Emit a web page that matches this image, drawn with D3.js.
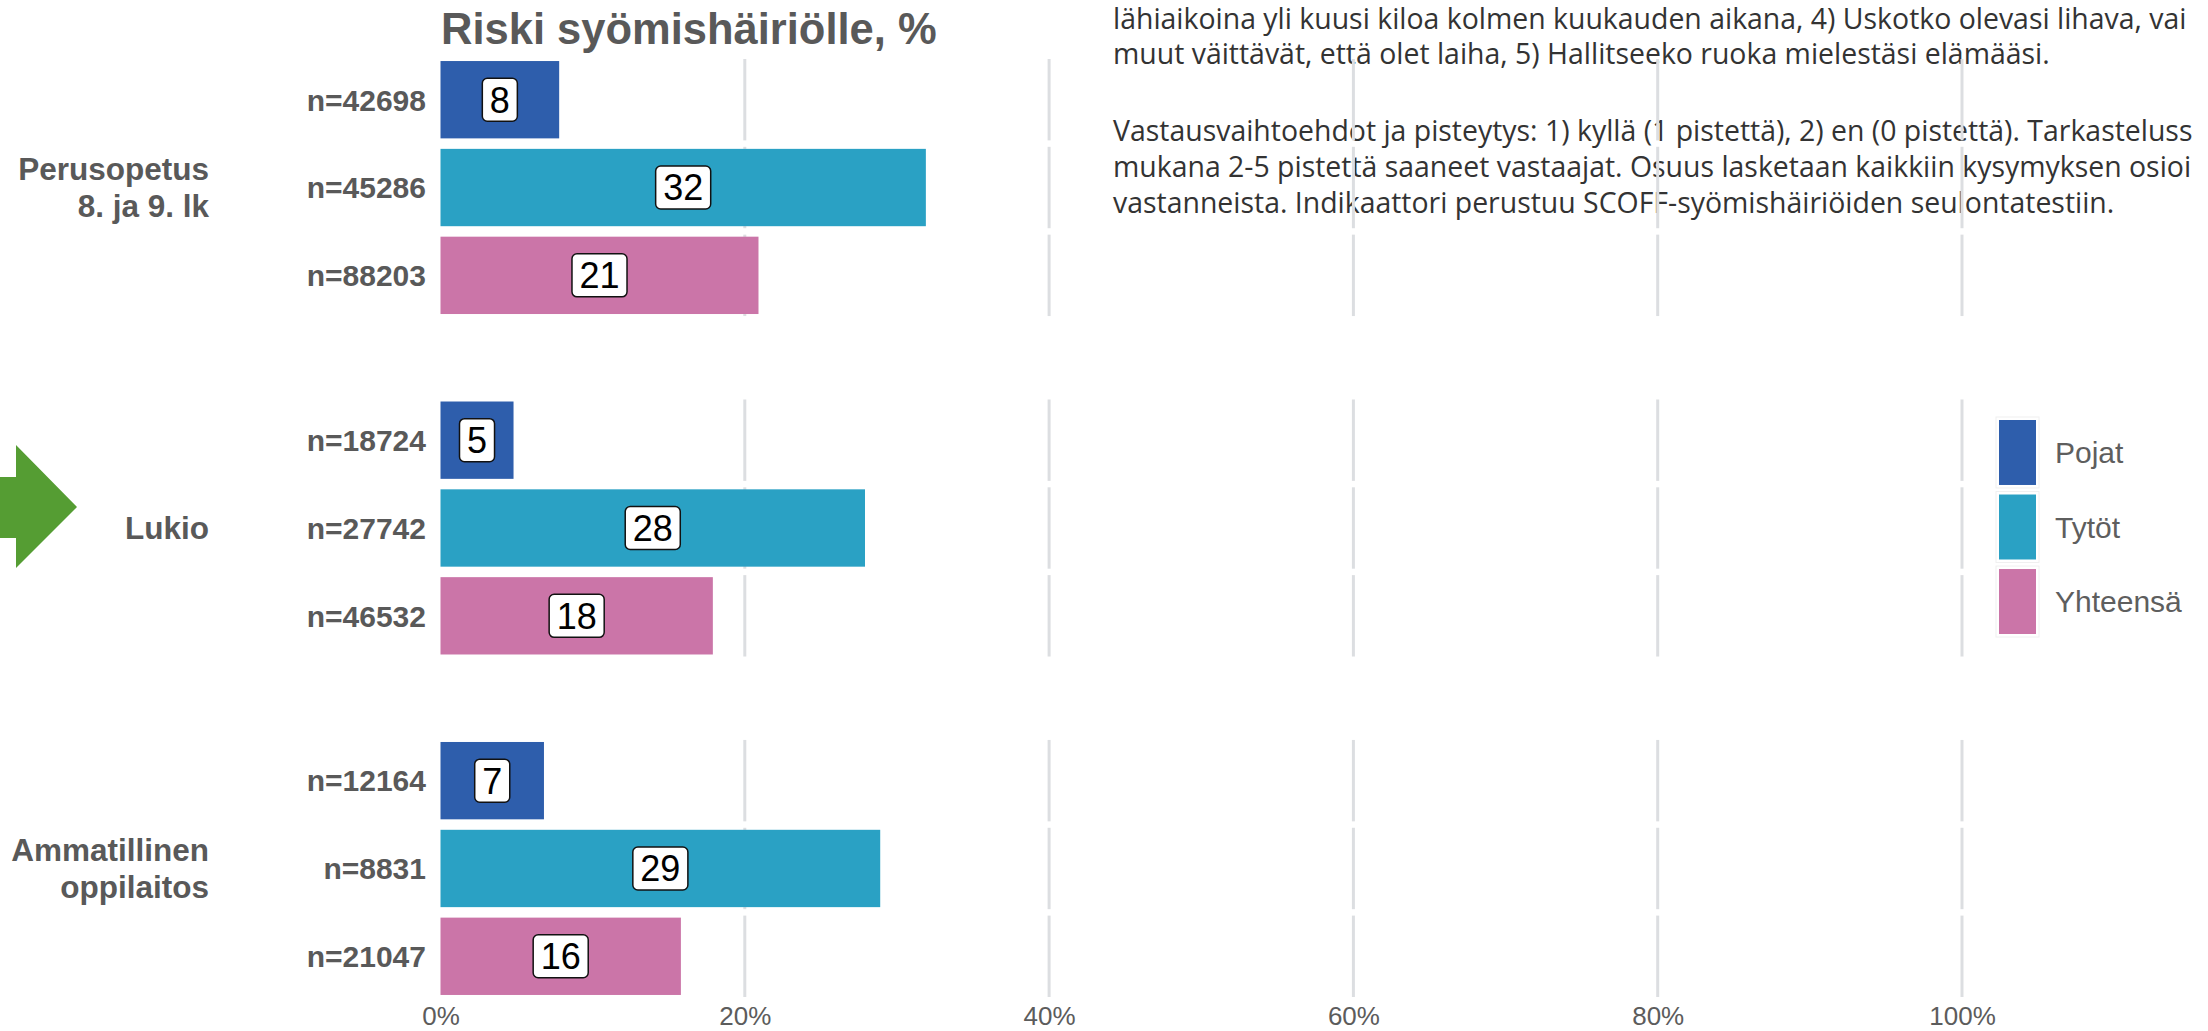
<!DOCTYPE html>
<html>
<head>
<meta charset="utf-8">
<script src="https://cdn.jsdelivr.net/npm/d3@7"></script>
<style>
  html, body { margin: 0; padding: 0; background: #fff; overflow: hidden; }
  svg { display: block; }
</style>
</head>
<body>
<svg id="chart" width="2208" height="1031"></svg>
<script>
// ---- data ----
const groups = ["Perusopetus\n8. ja 9. lk", "Lukio", "Ammatillinen\noppilaitos"];
const series = ["Pojat", "Tytöt", "Yhteensä"];
const pojat    = [7.8, 4.8, 6.8];
const tytot    = [31.9, 27.9, 28.9];
const yhteensa = [20.9, 17.9, 15.8];
const pojatN    = [42698, 18724, 12164];
const tytotN    = [45286, 27742, 8831];
const yhteensaN = [88203, 46532, 21047];
const ticks = [0, 20, 40, 60, 80, 100];
const title = "Riski syömishäiriölle, %";
// note text as visible in the reference (cut at the right page edge there)
const noteLines = [
  "lähiaikoina yli kuusi kiloa kolmen kuukauden aikana, 4) Uskotko olevasi lihava, vai",
  "muut väittävät, että olet laiha, 5) Hallitseeko ruoka mielestäsi elämääsi.",
  "",
  "Vastausvaihtoehdot ja pisteytys: 1) kyllä (1 pistettä), 2) en (0 pistettä). Tarkasteluss",
  "mukana 2-5 pistettä saaneet vastaajat. Osuus lasketaan kaikkiin kysymyksen osioi",
  "vastanneista. Indikaattori perustuu SCOFF-syömishäiriöiden seulontatestiin."
];

// ---- build table ----
const seriesValues = [pojat, tytot, yhteensa];
const seriesN = [pojatN, tytotN, yhteensaN];
const rows = [];
groups.forEach((g, gi) => {
  series.forEach((s, si) => {
    rows.push({ group: g, series: s, value: seriesValues[si][gi], n: seriesN[si][gi] });
  });
});

const colors = d3.scaleOrdinal().domain(series).range(["#2e5eac", "#2aa1c4", "#cb75a8"]);

const svg = d3.select("#chart");
const grey = "#595959";
const sans = "'Liberation Sans', Arial, Helvetica, sans-serif";

const x = d3.scaleLinear().domain([0, 100]).range([440.5, 1962]);
const yGroup = d3.scaleBand().domain(groups).range([59, 997]).paddingInner(0.245).paddingOuter(0);
const yInner = d3.scaleBand().domain(series).range([0, yGroup.bandwidth()]).paddingInner(0.073);
const panelY = d => yGroup(d.group) + yInner(d.series);
const barInset = yInner.bandwidth() * 0.025;

// ---- note text (behind chart) ----
const note = svg.append("g").attr("font-family", "'Open Sans', 'Noto Sans', sans-serif").attr("fill", "#333333");
const noteBaselines = [29, 64, 0, 141, 177, 213];
// fit font size so that the longest visible line stays inside the page
const probe = note.append("text").attr("font-size", 24).text(noteLines[3]);
const w24 = probe.node().getComputedTextLength();
probe.remove();
const noteSize = 24 * 1080 / w24;
noteLines.forEach((t, i) => {
  if (!t) return;
  note.append("text").attr("x", 1113).attr("y", noteBaselines[i])
    .attr("font-size", noteSize).text(t);
});

// ---- gridlines per panel ----
const grid = svg.append("g");
rows.forEach(d => {
  grid.selectAll(null).data(ticks.filter(t => t > 0)).enter().append("line")
    .attr("x1", t => x(t)).attr("x2", t => x(t))
    .attr("y1", panelY(d)).attr("y2", panelY(d) + yInner.bandwidth())
    .attr("stroke", "#dcdee1").attr("stroke-width", 3);
});

// ---- bars ----
svg.append("g").selectAll("rect").data(rows).enter().append("rect")
  .attr("x", x(0))
  .attr("y", d => panelY(d) + barInset)
  .attr("width", d => x(d.value) - x(0))
  .attr("height", yInner.bandwidth() - 2 * barInset)
  .attr("fill", d => colors(d.series));

// ---- value labels ----
const lab = svg.append("g").selectAll("g").data(rows).enter().append("g")
  .attr("transform", d => `translate(${(x(0) + x(d.value)) / 2},${panelY(d) + yInner.bandwidth() / 2})`);
lab.each(function(d) {
  const g = d3.select(this);
  const t = g.append("text").attr("text-anchor", "middle").attr("dy", "0.36em")
    .attr("font-family", sans).attr("font-size", 36).attr("fill", "#000")
    .text(Math.round(d.value));
  const tw = t.node().getComputedTextLength();
  const bw = tw + 15, bh = 43;
  g.insert("rect", "text").attr("x", -bw / 2).attr("y", -bh / 2)
    .attr("width", bw).attr("height", bh).attr("rx", 5).attr("ry", 5)
    .attr("fill", "#fff").attr("stroke", "#111").attr("stroke-width", 1.5);
});

// ---- n labels ----
svg.append("g").selectAll("text").data(rows).enter().append("text")
  .attr("x", 426).attr("y", d => panelY(d) + yInner.bandwidth() / 2).attr("dy", "0.36em")
  .attr("text-anchor", "end").attr("font-family", sans).attr("font-weight", "bold")
  .attr("font-size", 30).attr("fill", grey)
  .text(d => "n=" + d.n);

// ---- group labels ----
const gl = svg.append("g").selectAll("text").data(groups).enter().append("text")
  .attr("text-anchor", "end").attr("font-family", sans).attr("font-weight", "bold")
  .attr("font-size", 31.5).attr("fill", grey);
gl.each(function(g) {
  const lines = g.split("\n");
  const cy = yGroup(g) + yGroup.bandwidth() / 2;
  const lh = 37;
  lines.forEach((ln, i) => {
    d3.select(this).append("tspan").attr("x", 209)
      .attr("y", cy + (i - (lines.length - 1) / 2) * lh).attr("dy", "0.36em").text(ln);
  });
});

// ---- x axis ----
const axis = svg.append("g").attr("transform", "translate(0,997)")
  .call(d3.axisBottom(x).tickValues(ticks).tickFormat(d => d + "%").tickSize(0).tickPadding(10));
axis.select(".domain").remove();
axis.selectAll("text").attr("font-family", sans).attr("font-size", 26).attr("fill", "#5c5c5c");

// ---- title ----
svg.append("text").attr("x", 441).attr("y", 44)
  .attr("font-family", sans).attr("font-weight", "bold").attr("font-size", 43.5).attr("fill", grey)
  .text(title);

// ---- legend ----
const legY = d3.scaleBand().domain(series).range([420, 634]).paddingInner(0.128);
const leg = svg.append("g").selectAll("g").data(series).enter().append("g");
leg.append("rect").attr("x", 1996).attr("y", d => legY(d) - 3).attr("width", 43).attr("height", legY.bandwidth() + 6)
  .attr("fill", "#fff").attr("stroke", "#f0f0f0").attr("stroke-width", 1);
leg.append("rect").attr("x", 1999).attr("y", d => legY(d)).attr("width", 37).attr("height", legY.bandwidth())
  .attr("fill", d => colors(d));
leg.append("text").attr("x", 2055).attr("y", d => legY(d) + legY.bandwidth() / 2).attr("dy", "0.36em")
  .attr("font-family", sans).attr("font-size", 30).attr("fill", "#5e5e5e").text(d => d);

// ---- green arrow ----
svg.append("polygon")
  .attr("points", "0,477 16,477 16,445 77,507 16,568 16,538 0,538")
  .attr("fill", "#559d33");
</script>
</body>
</html>
